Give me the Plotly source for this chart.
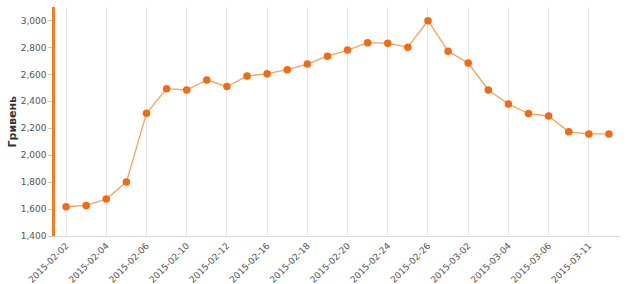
import plotly.graph_objects as go

dates = ["2015-02-02", "2015-02-03", "2015-02-04", "2015-02-05", "2015-02-06", "2015-02-09",
         "2015-02-10", "2015-02-11", "2015-02-12", "2015-02-13", "2015-02-16", "2015-02-17",
         "2015-02-18", "2015-02-19", "2015-02-20", "2015-02-23", "2015-02-24", "2015-02-25",
         "2015-02-26", "2015-02-27", "2015-03-02", "2015-03-03", "2015-03-04", "2015-03-05",
         "2015-03-06", "2015-03-10", "2015-03-11", "2015-03-12"]
values = [1617, 1627, 1674, 1800, 2311, 2494, 2484, 2558, 2509, 2587, 2605, 2635,
          2676, 2735, 2780, 2835, 2830, 2802, 2998, 2772, 2684, 2484, 2380, 2309,
          2291, 2173, 2158, 2158]
shown_labels = dates[::2]
y_ticks = [1400, 1600, 1800, 2000, 2200, 2400, 2600, 2800, 3000]
y_title = "Гривень"

fig = go.Figure()
fig.add_trace(go.Scatter(
    x=dates, y=values, mode="lines+markers",
    line=dict(color="#f8a35c", width=1.3),
    marker=dict(color="#f26b12", size=7.5),
    hoverinfo="x+y",
))

fig.add_annotation(
    text="<b>" + y_title + "</b>", xref="paper", yref="paper",
    x=0, y=0.5, xshift=-43, textangle=-90, showarrow=False,
    xanchor="center", yanchor="middle",
    font=dict(size=11, color="#333333", family="DejaVu Sans, Verdana, sans-serif"),
)

fig.update_layout(
    width=634, height=284,
    margin=dict(l=55, r=14, t=7, b=48),
    paper_bgcolor="white", plot_bgcolor="white",
    showlegend=False,
    font=dict(family="DejaVu Sans, Verdana, sans-serif", size=10, color="#555555"),
    xaxis=dict(
        type="category",
        categoryorder="array", categoryarray=dates,
        range=[-0.55, len(dates) - 0.45],
        tickmode="array", tickvals=shown_labels, ticktext=shown_labels,
        tickangle=-45, automargin=False,
        showgrid=True, gridcolor="#e6e6e6", gridwidth=1,
        showline=True, linecolor="#d8d8d8", linewidth=1,
        ticks="", zeroline=False,
        tickfont=dict(size=9, color="#555555"),
    ),
    yaxis=dict(
        range=[1400, 3100], automargin=False,
        tickmode="array", tickvals=y_ticks,
        tickformat=",d",
        showgrid=False, zeroline=False,
        showline=True, linecolor="#f47b20", linewidth=2.5,
        ticks="outside", ticklen=4, tickcolor="#c8c8c8", tickwidth=1,
        tickfont=dict(size=9, color="#555555"),
    ),
)

fig.write_html("out.html")
